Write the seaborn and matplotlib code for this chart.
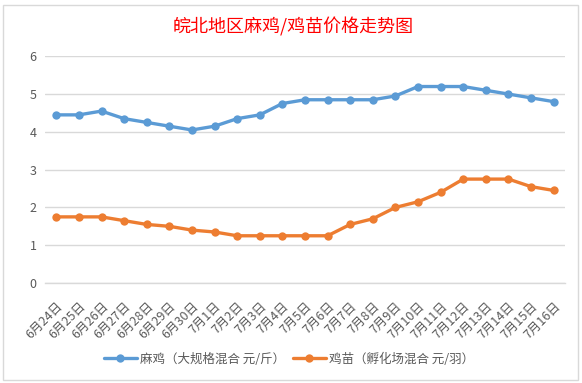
import matplotlib
matplotlib.use("Agg")
import matplotlib.pyplot as plt
import matplotlib.patches as mpatches
from matplotlib.lines import Line2D
import seaborn as sb
import pandas as pd

# DATA #
dates = ["6月24日", "6月25日", "6月26日", "6月27日", "6月28日", "6月29日", "6月30日",
         "7月1日", "7月2日", "7月3日", "7月4日", "7月5日", "7月6日", "7月7日", "7月8日",
         "7月9日", "7月10日", "7月11日", "7月12日", "7月13日", "7月14日", "7月15日", "7月16日"]
mj_price = [4.45, 4.45, 4.55, 4.35, 4.25, 4.15, 4.05, 4.15, 4.35, 4.45, 4.75, 4.85,
            4.85, 4.85, 4.85, 4.95, 5.2, 5.2, 5.2, 5.1, 5.0, 4.9, 4.8]
jm_price = [1.75, 1.75, 1.75, 1.65, 1.55, 1.5, 1.4, 1.35, 1.25, 1.25, 1.25, 1.25,
            1.25, 1.55, 1.7, 2.0, 2.15, 2.4, 2.75, 2.75, 2.75, 2.55, 2.45]
series_names = ["麻鸡（大规格混合 元/斤）", "鸡苗（孵化场混合 元/羽）"]
colors = ["#5b9bd5", "#ed7d31"]

df = pd.DataFrame({
    "日期": dates * 2,
    "价格": mj_price + jm_price,
    "系列": [series_names[0]] * len(dates) + [series_names[1]] * len(dates),
})

# STYLE #
sb.set_style("white")
plt.rcParams["font.family"] = ["Noto Sans CJK SC", "DejaVu Sans"]
grey = "#595959"

fig = plt.figure(figsize=(5.82, 3.83), dpi=100)
# chart border (excel style)
fig.patches.append(mpatches.Rectangle((3 / 582, 3 / 383), 575 / 582, 375 / 383,
                                      transform=fig.transFigure, fill=False,
                                      edgecolor="#d9d9d9", linewidth=1))
ax = fig.add_axes([45 / 582, 100 / 383, 520 / 582, 226.7 / 383])

sb.lineplot(data=df, x="日期", y="价格", hue="系列", palette=colors, marker="o",
            markersize=6, markeredgewidth=0, linewidth=2.4, sort=False,
            legend=False, ax=ax)

ax.set_ylim(0, 6)
ax.set_xlim(-0.5, len(dates) - 0.5)
ax.set_yticks(range(0, 7))
ax.grid(axis="y", color="#d9d9d9", linewidth=1)
ax.grid(axis="x", visible=False)
ax.set_axisbelow(True)
for s in ["top", "right", "left"]:
    ax.spines[s].set_visible(False)
ax.spines["bottom"].set_color("#d9d9d9")
ax.spines["bottom"].set_linewidth(1)

ax.set_xticks(range(len(dates)))
ax.set_xticklabels(dates, rotation=45, ha="right", rotation_mode="anchor",
                   fontsize=9, color=grey)
ax.set_xticks([i - 0.5 for i in range(len(dates) + 1)], minor=True)
ax.tick_params(axis="x", which="major", length=0, pad=12)
ax.tick_params(axis="x", which="minor", length=4, color="#d9d9d9", width=1)
ax.tick_params(axis="y", length=0, pad=6, labelsize=9, labelcolor=grey)
ax.set_xlabel("")
ax.set_ylabel("")

fig.text(0.503, 1 - 27 / 383, "皖北地区麻鸡/鸡苗价格走势图", color="red",
         fontsize=13, ha="center", va="center")

handles = [Line2D([0], [0], color=c, linewidth=2.4, marker="o", markersize=6,
                  markeredgewidth=0) for c in colors]
fig.legend(handles, series_names, loc="center", bbox_to_anchor=(0.497, 1 - 359 / 383),
           ncol=2, frameon=False, fontsize=9, labelcolor=grey, handlelength=2.6,
           columnspacing=0.6, handletextpad=0.3)

plt.savefig("out.png", dpi=100)
